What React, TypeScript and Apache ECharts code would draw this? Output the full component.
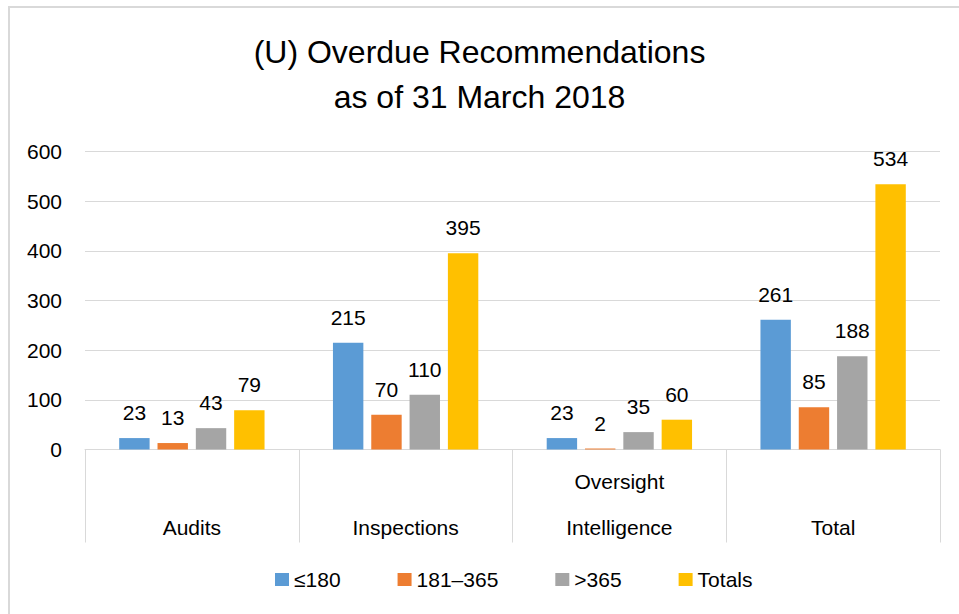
import React, { useEffect, useRef } from "react";
import * as echarts from "echarts";

const categories = ["Audits", "Inspections", "Oversight\nIntelligence", "Total"];
const seriesNames = ["≤180", "181–365", ">365", "Totals"];
const le180 = [23, 215, 23, 261];
const d181to365 = [13, 70, 2, 85];
const gt365 = [43, 110, 35, 188];
const totals = [79, 395, 60, 534];
const colors = ["#5B9BD5", "#ED7D31", "#A5A5A5", "#FFC000"];
const yTicks = { min: 0, max: 600, interval: 100 };
const titleText = "(U) Overdue Recommendations\nas of 31 March 2018";

const FONT = "'Liberation Sans', Arial, sans-serif";

export default function App() {
  const ref = useRef<HTMLDivElement>(null);
  useEffect(() => {
    if (!ref.current) return;
    const chart = echarts.init(ref.current, undefined, { renderer: "svg" });
    const data = [le180, d181to365, gt365, totals];
    chart.setOption({
      animation: false,
      backgroundColor: "#ffffff",
      textStyle: { fontFamily: FONT },
      title: {
        text: titleText,
        left: "center",
        top: 24,
        textStyle: {
          fontFamily: FONT,
          fontSize: 32,
          fontWeight: "normal",
          color: "#000000",
          lineHeight: 45,
        },
      },
      graphic: [
        {
          type: "rect",
          shape: { x: 9, y: 7, width: 980, height: 640 },
          style: { fill: "none", stroke: "#d9d9d9", lineWidth: 2 },
          silent: true,
          z: -1,
        },
      ],
      legend: {
        left: 275,
        top: 569,
        padding: 0,
        itemWidth: 14,
        itemHeight: 13,
        itemGap: 57,
        icon: "rect",
        textStyle: { fontFamily: FONT, fontSize: 21, color: "#000000", padding: [0, 0, 0, 0] },
        data: seriesNames,
      },
      grid: { left: 85, right: 19, top: 151.5, bottom: 164.5, containLabel: false },
      xAxis: {
        type: "category",
        data: categories,
        axisLine: { show: true, lineStyle: { color: "#d9d9d9", width: 1 } },
        axisTick: { show: true, length: 93, interval: 0, lineStyle: { color: "#d9d9d9", width: 1 } },
        axisLabel: {
          interval: 0,
          margin: 9,
          fontFamily: FONT,
          fontSize: 21,
          lineHeight: 46,
          color: "#000000",
          verticalAlign: "top",
          formatter: (v: string) => (v.includes("\n") ? v : "\n" + v),
        },
      },
      yAxis: {
        type: "value",
        min: yTicks.min,
        max: yTicks.max,
        interval: yTicks.interval,
        axisLine: { show: false },
        axisTick: { show: false },
        axisLabel: { margin: 23, fontFamily: FONT, fontSize: 21, color: "#000000" },
        splitLine: { show: true, lineStyle: { color: "#d9d9d9", width: 1 } },
      },
      series: seriesNames.map((name, i) => ({
        name,
        type: "bar",
        data: data[i],
        itemStyle: { color: colors[i] },
        barCategoryGap: "32%",
        barGap: "26%",
        label: {
          show: true,
          position: "top",
          distance: 15,
          fontFamily: FONT,
          fontSize: 21,
          color: "#000000",
        },
      })),
    });
    return () => chart.dispose();
  }, []);
  return (
    <div
      ref={ref}
      style={{ position: "absolute", left: 0, top: 0, width: 959, height: 614, background: "#fff" }}
    />
  );
}
